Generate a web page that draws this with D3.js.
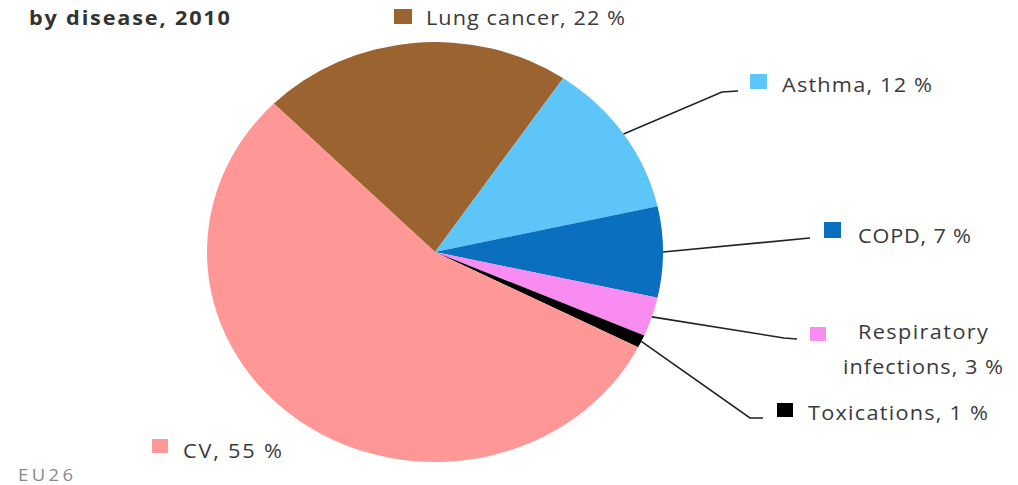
<!DOCTYPE html>
<html>
<head>
<meta charset="utf-8">
<script src="https://cdn.jsdelivr.net/npm/d3@7"></script>
<style>
  html, body { margin: 0; padding: 0; background: #ffffff; }
  svg { display: block; }
  text { font-family: "Open Sans", Lato, sans-serif; }
</style>
</head>
<body>
<svg id="chart" width="1018" height="485"></svg>
<script>
// Share of deaths by disease, 2010 (EU26)
const categories = ["Lung cancer", "Asthma", "COPD", "Respiratory infections", "Toxications", "CV"];
const shares = [22, 12, 7, 3, 1, 55];
const labelLines = [
  ["Lung cancer, 22 %"],
  ["Asthma, 12 %"],
  ["COPD, 7 %"],
  ["Respiratory", "infections, 3 %"],
  ["Toxications, 1 %"],
  ["CV, 55 %"]
];
const colors = ["#9a6330", "#5ec5f8", "#0b6fc0", "#f98cf0", "#000000", "#ff9797"];

// Label layout: swatch box, text lines (x, baseline, width), optional leader elbow
const labelLayout = [
  { sw: [394, 9, 18, 15],   lines: [[426, 25, 199]] },
  { sw: [750, 74, 17, 15],  lines: [[782, 92, 150]],  leader: [[722, 92], [738, 91]] },
  { sw: [824, 222, 17, 16], lines: [[858, 243, 113]], leader: [[810, 238]] },
  { sw: [810, 327, 16, 14], lines: [[858, 339, 130], [843, 374, 160]], leader: [[784, 338], [797, 339]] },
  { sw: [777, 403, 16, 14], lines: [[808, 420, 180]], leader: [[750, 418], [763, 418]] },
  { sw: [152, 439, 16, 14], lines: [[183, 458, 99]] }
];

const svg = d3.select("#chart");
const cx = 435, cy = 252, rx = 228, ry = 210;
const stretch = rx / ry; // horizontal stretch shared by pie and lettering

const pie = d3.pie().sort(null).value(d => d.value)
  .startAngle(-Math.PI / 4).endAngle(2 * Math.PI - Math.PI / 4);
const data = categories.map((c, i) => ({ name: c, value: shares[i], color: colors[i] }));
const arcs = pie(data);
const arc = d3.arc().innerRadius(0).outerRadius(ry);

// Pie drawn slightly wider than tall
const pieG = svg.append("g")
  .attr("transform", `translate(${cx},${cy}) scale(${stretch},1)`);
pieG.selectAll("path").data(arcs).enter().append("path")
  .attr("d", arc)
  .attr("fill", d => d.data.color);

// Leader lines from slice edge at mid-angle
const leaderG = svg.append("g");
arcs.forEach((a, i) => {
  const lay = labelLayout[i];
  if (!lay.leader) return;
  const mid = (a.startAngle + a.endAngle) / 2;
  const start = [cx + rx * Math.sin(mid), cy - ry * Math.cos(mid)];
  const pts = [start].concat(lay.leader);
  leaderG.append("path")
    .attr("d", d3.line()(pts))
    .attr("fill", "none")
    .attr("stroke", "#222")
    .attr("stroke-width", 1.6);
});

// Stretched text helper
function addText(parent, x, y, w, str, opts) {
  const t = parent.append("text")
    .attr("transform", `translate(${x},${y}) scale(${stretch},1)`)
    .attr("font-size", opts.size)
    .attr("fill", opts.fill)
    .attr("textLength", w / stretch)
    .attr("lengthAdjust", "spacing")
    .text(str);
  if (opts.weight) t.attr("font-weight", opts.weight);
  return t;
}

// Labels with colour swatches
const labG = svg.append("g");
arcs.forEach((a, i) => {
  const lay = labelLayout[i];
  labG.append("rect")
    .attr("x", lay.sw[0]).attr("y", lay.sw[1])
    .attr("width", lay.sw[2]).attr("height", lay.sw[3])
    .attr("fill", a.data.color);
  labelLines[i].forEach((t, j) => {
    const [x, y, w] = lay.lines[j];
    addText(labG, x, y, w, t, { size: 20, fill: "#3a3a3a" });
  });
});

// Title and source
addText(svg, 29, 25, 201, "by disease, 2010", { size: 20, fill: "#333", weight: "bold" });
addText(svg, 18, 481, 55, "EU26", { size: 17, fill: "#8a8a8a" });
</script>
</body>
</html>
